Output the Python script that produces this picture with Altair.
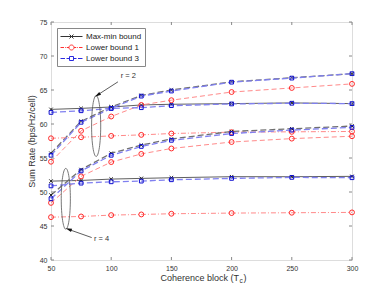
import altair as alt
import pandas as pd

# ---------------- data ----------------
Tc = [50, 75, 100, 125, 150, 200, 250, 300]

# r = 2
maxmin_r2 = [62.15, 62.3, 62.5, 62.8, 62.9, 63.0, 63.1, 63.0]
maxmin_alt_r2 = [55.7, 60.4, 62.5, 64.2, 65.0, 66.2, 66.8, 67.4]
lb1_r2 = [57.9, 58.05, 58.25, 58.4, 58.6, 58.8, 58.85, 58.9]
lb1_alt_r2 = [54.45, 59.0, 61.1, 62.8, 63.5, 64.7, 65.3, 65.9]
lb3_r2 = [61.7, 61.95, 62.3, 62.4, 62.7, 62.95, 63.05, 63.0]
lb3_alt_r2 = [55.4, 60.25, 62.3, 64.1, 64.85, 66.15, 66.75, 67.4]

# r = 4
maxmin_r4 = [51.6, 51.7, 51.9, 52.0, 52.1, 52.25, 52.25, 52.3]
maxmin_alt_r4 = [49.55, 53.3, 55.7, 56.9, 57.8, 58.9, 59.3, 59.7]
lb1_r4 = [46.3, 46.4, 46.6, 46.7, 46.8, 46.9, 46.95, 47.0]
lb1_alt_r4 = [48.4, 52.3, 54.4, 55.6, 56.4, 57.35, 57.85, 58.2]
lb3_r4 = [50.9, 51.3, 51.5, 51.6, 51.8, 52.0, 52.15, 52.1]
lb3_alt_r4 = [49.0, 53.1, 55.4, 56.7, 57.6, 58.6, 59.1, 59.5]

x_ticks = [50, 100, 150, 200, 250, 300]
y_ticks = [40, 45, 50, 55, 60, 65, 70, 75]
legend_labels = ["Max-min bound", "Lower bound 1", "Lower bound 3"]

# annotations
ellipse_x = [87.5, 62.3]
ellipse_y = [59.7, 49.0]
ann_text = ["r = 2", "r = 4"]
ann_text_x = [107.9, 85.7]
ann_text_y = [67.06, 43.1]
arrow_x = [105.6, 83.8]
arrow_y = [66.2, 43.3]
arrow_x2 = [88.6, 64.6]
arrow_y2 = [64.26, 44.5]
arrow_angle = [238, 289]

# ---------------- styles ----------------
FONT = "Liberation Sans"
W, H = 301, 238
xs = alt.Scale(domain=[50, 300], nice=False, zero=False)
ys = alt.Scale(domain=[40, 75], nice=False, zero=False)

X_PATH = "M -1 -1 L 1 1 M -1 1 L 1 -1"

STY = {
    "maxmin": dict(line="#606060", dash=None, marker="#222222", shape=X_PATH, size=12, sw=1.0),
    "maxmin_alt": dict(line="#707070", dash=[6, 3], marker="#222222", shape=X_PATH, size=12, sw=1.3),
    "lb1": dict(line="#ff8a8a", dash=[5, 2, 1, 2], marker="#ff2a2a", shape="circle", size=24, sw=1.0),
    "lb1_alt": dict(line="#ff8a8a", dash=[5, 3], marker="#ff2a2a", shape="circle", size=24, sw=1.0),
    "lb3": dict(line="#8080f0", dash=[6, 3], marker="#1010d0", shape="square", size=14, sw=1.3),
    "lb3_alt": dict(line="#8080f0", dash=[6, 3], marker="#1010d0", shape="square", size=14, sw=1.3),
}

series = [
    ("maxmin", maxmin_r2), ("maxmin_alt", maxmin_alt_r2),
    ("lb1", lb1_r2), ("lb1_alt", lb1_alt_r2),
    ("lb3", lb3_r2), ("lb3_alt", lb3_alt_r2),
    ("maxmin", maxmin_r4), ("maxmin_alt", maxmin_alt_r4),
    ("lb1", lb1_r4), ("lb1_alt", lb1_alt_r4),
    ("lb3", lb3_r4), ("lb3_alt", lb3_alt_r4),
]

X = alt.X("Tc:Q", scale=xs,
          axis=alt.Axis(values=x_ticks, title=None, ticks=False, tickSize=0, domain=False,
                        grid=False, labelPadding=4, labelFontSize=7, labelFont=FONT,
                        labelColor="#333333", labelOverlap=False, labelFlush=False))
Y = alt.Y("rate:Q", scale=ys,
          axis=alt.Axis(values=y_ticks, title="Sum Rate (bps/Hz/cell)", ticks=False, tickSize=0,
                        domain=False, grid=False, labelPadding=4, labelFontSize=7,
                        labelFont=FONT, labelColor="#333333", titleFont=FONT,
                        titleFontSize=9, titleFontWeight="normal", titleColor="#333333",
                        titlePadding=3, labelOverlap=False, labelFlush=False))

layers = []
for key, vals in series:
    s = STY[key]
    df = pd.DataFrame({"Tc": Tc, "rate": vals})
    lk = dict(color=s["line"], strokeWidth=s["sw"])
    if s["dash"]:
        lk["strokeDash"] = s["dash"]
    layers.append(alt.Chart(df).mark_line(**lk).encode(x=X, y=Y))
    layers.append(alt.Chart(df).mark_point(shape=s["shape"], size=s["size"], filled=False,
                                           opacity=1, strokeWidth=1, color=s["marker"])
                  .encode(x=X, y=Y))

# inward ticks
xt = pd.DataFrame({"Tc": x_ticks})
yt = pd.DataFrame({"rate": y_ticks})
tick_col = "#888888"
layers += [
    alt.Chart(xt).mark_rule(color=tick_col, strokeWidth=1).encode(x=X, y=alt.value(H), y2=alt.value(H - 3)),
    alt.Chart(xt).mark_rule(color=tick_col, strokeWidth=1).encode(x=X, y=alt.value(0), y2=alt.value(3)),
    alt.Chart(yt).mark_rule(color=tick_col, strokeWidth=1).encode(y=Y, x=alt.value(0), x2=alt.value(3)),
    alt.Chart(yt).mark_rule(color=tick_col, strokeWidth=1).encode(y=Y, x=alt.value(W), x2=alt.value(W - 3)),
]

# annotations
ell = pd.DataFrame({"Tc": ellipse_x, "rate": ellipse_y})
layers.append(alt.Chart(ell).mark_point(
    shape="M 0 -1 A 0.15 1 0 1 0 0 1 A 0.15 1 0 1 0 0 -1",
    size=3700, filled=False, opacity=1, color="#555555", strokeWidth=0.8).encode(x=X, y=Y))

arr = pd.DataFrame({"Tc": arrow_x, "rate": arrow_y, "Tc2": arrow_x2, "rate2": arrow_y2})
layers.append(alt.Chart(arr).mark_rule(color="#333333", strokeWidth=0.8).encode(
    x=X, y=Y, x2="Tc2:Q", y2="rate2:Q"))
head = pd.DataFrame({"Tc": arrow_x2, "rate": arrow_y2, "ang": arrow_angle})
layers.append(alt.Chart(head).mark_point(
    shape="M 0 -1 L 0.55 1 L -0.55 1 Z", size=40, filled=True, opacity=1,
    color="#111111").encode(x=X, y=Y, angle=alt.Angle("ang:Q", scale=None)))

txt = pd.DataFrame({"Tc": ann_text_x, "rate": ann_text_y, "t": ann_text})
layers.append(alt.Chart(txt).mark_text(align="left", baseline="middle", font=FONT,
                                       fontSize=7.5, color="#333333").encode(x=X, y=Y, text="t:N"))

# x-axis title with subscript
layers.append(alt.Chart(pd.DataFrame({"t": ["Coherence block (T"]})).mark_text(
    align="right", baseline="middle", font=FONT, fontSize=9, color="#333333").encode(
    text="t:N", x=alt.value(188), y=alt.value(256)))
layers.append(alt.Chart(pd.DataFrame({"t": ["c"]})).mark_text(
    align="left", baseline="middle", font=FONT, fontSize=6.5, color="#333333").encode(
    text="t:N", x=alt.value(188.5), y=alt.value(259)))
layers.append(alt.Chart(pd.DataFrame({"t": [")"]})).mark_text(
    align="left", baseline="middle", font=FONT, fontSize=9, color="#333333").encode(
    text="t:N", x=alt.value(192.5), y=alt.value(256)))

# legend (scales with explicit domain; no marks drawn)
legend_paths = [
    "M -1 0 L 3.4 0 M 0.8 -0.4 L 1.6 0.4 M 0.8 0.4 L 1.6 -0.4",
    "M -1 0 L -0.3 0 M -0.1 0 L 0.05 0 M 0.25 0 L 0.7 0 "
    "M 1.7 0 A 0.5 0.5 0 1 0 0.7 0 A 0.5 0.5 0 1 0 1.7 0 "
    "M 1.7 0 L 2.15 0 M 2.35 0 L 2.5 0 M 2.7 0 L 3.4 0",
    "M -1 0 L -0.1 0 M 0.2 0 L 0.8 0 M 0.8 -0.4 L 1.6 -0.4 L 1.6 0.4 L 0.8 0.4 Z "
    "M 1.6 0 L 2.2 0 M 2.5 0 L 3.4 0",
]
legend_colors = ["#333333", "#ff3030", "#2a2ae0"]
leg = alt.Legend(title=None, orient="top-left", offset=6, symbolSize=100, symbolStrokeWidth=1,
                 labelFont=FONT, labelFontSize=8, labelColor="#222222", labelOffset=15,
                 rowPadding=1, padding=3, strokeColor="#888888", fillColor="white",
                 cornerRadius=0, symbolFillColor="transparent")
legdf = pd.DataFrame({"bound": legend_labels})
layers.append(alt.Chart(legdf).transform_filter("false").mark_point(filled=False, opacity=1).encode(
    color=alt.Color("bound:N", scale=alt.Scale(domain=legend_labels, range=legend_colors), legend=leg),
    shape=alt.Shape("bound:N", scale=alt.Scale(domain=legend_labels, range=legend_paths), legend=leg),
))

chart = alt.layer(*layers).properties(
    width=W, height=H,
    autosize=alt.AutoSizeParams(type="none"),
    padding={"left": 43, "top": 14, "right": 20, "bottom": 30},
).configure_view(stroke="#999999", strokeWidth=1).configure(background="white")

chart.save("out.html", embed_options={"renderer": "svg", "actions": False})
